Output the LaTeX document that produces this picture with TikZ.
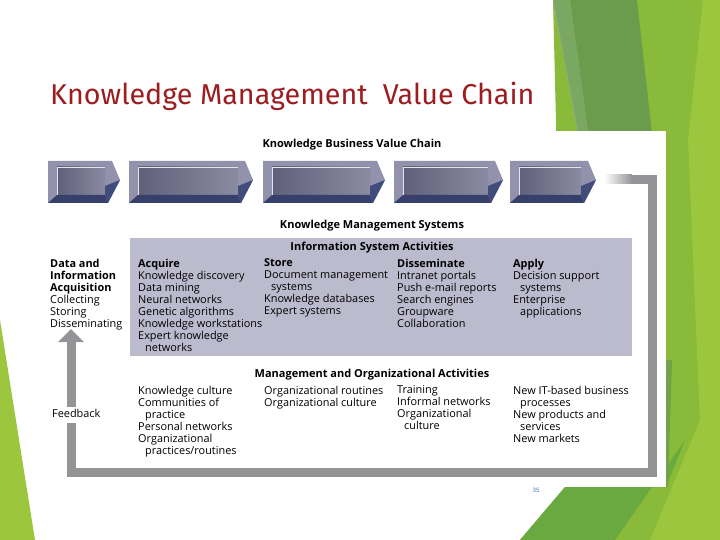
\documentclass[tikz,border=0pt]{standalone}
\usepackage{fontspec}
\setmainfont{Open Sans}
\newfontfamily\titlefont{Fira Sans}
\usepackage{tikz}

\definecolor{slidered}{RGB}{156,28,31}
\definecolor{lime}{RGB}{155,198,62}
\definecolor{leaf}{RGB}{138,186,58}
\definecolor{moss}{RGB}{107,155,76}
\definecolor{sage}{RGB}{122,168,98}
\definecolor{grass}{RGB}{106,168,64}
\definecolor{loopgray}{RGB}{148,148,150}
\definecolor{panel}{RGB}{187,187,205}
\definecolor{bevel}{RGB}{146,146,172}
\definecolor{faceL}{RGB}{96,96,122}
\definecolor{faceR}{RGB}{138,138,162}
\definecolor{navy}{RGB}{54,64,106}
\definecolor{navyR}{RGB}{64,76,124}
\definecolor{pagenum}{RGB}{58,94,168}

\tikzset{
    col/.style={anchor=north west, align=left, inner sep=0pt, execute at begin node=\strut,
        font=\fontsize{10.9}{12}\selectfont},
    bar/.style={anchor=base, inner sep=0pt, font=\fontsize{11}{12}\selectfont\bfseries},
}

\begin{document}
\begin{tikzpicture}[x=1pt, y=-1pt]
    \useasboundingbox (0,0) rectangle (720,540);
    % slide background
    \fill[lime] (0,320) -- (35,540) -- (0,540) -- cycle;
    \fill[leaf] (553,0) -- (720,0) -- (720,540) -- (520,540) -- (565,487) -- cycle;
    \fill[lime] (703,0) -- (720,0) -- (720,540) -- (650,540) -- (700,420) -- (688,140) -- cycle;
    \fill[moss] (570,0) -- (637,0) -- (655,160) -- (592,160) -- cycle;
    \fill[sage] (553,0) -- (570,0) -- (592,160) -- (583,160) -- cycle;
    \draw[gray!70, line width=0.4pt] (553,0) -- (583,160);
    \fill[grass] (520,540) -- (565,487) -- (666,487) -- (685,440) -- (615,540) -- cycle;
    \fill[moss!80!leaf] (666,360) -- (672,360) -- (668,487) -- (666,487) -- cycle;
    \fill[white] (40,131) rectangle (666,487);

    \node[anchor=base west, inner sep=0pt, text=slidered, font=\titlefont\fontsize{28.7}{30}\selectfont] (title) at (50,105) {Knowledge Management~ Value Chain};

    % value chain
    \node[bar] (kbvc) at (352,148) {Knowledge Business Value Chain};
    \foreach \xa/\xb in {48/120, 129/253, 263/385, 394/503, 510/596} {
        \fill[bevel] (\xa,161) -- (\xb-8,161) -- (\xb,180) -- (\xb-12,203) -- (\xa,203) -- cycle;
        \shade[left color=faceL, right color=faceR] (\xa+9,167) rectangle (\xb-15,195);
        \fill[navy] (\xa,203) -- (\xa+9,195) -- (\xb-15,195) -- (\xb-12,203) -- cycle;
        \fill[navyR] (\xb-15,195) -- (\xb-15,186) -- (\xb,180) -- (\xb-12,203) -- cycle;
        \draw[white!75!bevel, line width=0.6pt] (\xa+9,195) -- (\xa+9,167) -- (\xb-15,167);
    }

    % feedback loop
    \coordinate (loopstart) at (604,179.5);
    \coordinate (loopend) at (71,341);
    \shade[left color=white, right color=loopgray] (loopstart) ++(0,-4.5) rectangle (632,184);
    \draw[loopgray, line width=9pt] (632,179.5) -- (652.5,179.5) -- (652.5,472) -- (71,472) -- (loopend);
    \fill[loopgray] (58,342) -- (84,342) -- (71,329) -- cycle;
    \node[col, fill=white, inner sep=2pt] (feedback) at (50,406.6) {Feedback};

    % knowledge management systems
    \node[bar] (kms) at (372,229) {Knowledge Management Systems};
    \fill[panel] (130,238) rectangle (632,356);
    \node[bar] (isa) at (372,251) {Information System Activities};

    \node[col] (data) at (50,258.6) {\textbf{Data and}\\\textbf{Information}\\\textbf{Acquisition}\\Collecting\\Storing\\Disseminating};
    \node[col] (acquire) at (138,258.6) {\textbf{Acquire}\\Knowledge discovery\\Data mining\\Neural networks\\Genetic algorithms\\Knowledge workstations\\Expert knowledge\\\hspace*{7pt}networks};
    \node[col] (store) at (264,258.6) {\textbf{Store}\\Document management\\\hspace*{7pt}systems\\Knowledge databases\\Expert systems};
    \node[col] (dissem) at (397,258.6) {\textbf{Disseminate}\\Intranet portals\\Push e-mail reports\\Search engines\\Groupware\\Collaboration};
    \node[col] (apply) at (513,258.6) {\textbf{Apply}\\Decision support\\\hspace*{7pt}systems\\Enterprise\\\hspace*{7pt}applications};

    % management and organizational activities
    \node[bar] (moa) at (372,377) {Management and Organizational Activities};
    \node[col] (org1) at (138,385.6) {Knowledge culture\\Communities of\\\hspace*{7pt}practice\\Personal networks\\Organizational\\\hspace*{7pt}practices/routines};
    \node[col] (org2) at (264,385.6) {Organizational routines\\Organizational culture};
    \node[col] (org3) at (397,385.6) {Training\\Informal networks\\Organizational\\\hspace*{7pt}culture};
    \node[col] (org4) at (513,385.6) {New IT-based business\\\hspace*{7pt}processes\\New products and\\\hspace*{7pt}services\\New markets};

    \node[anchor=base, inner sep=0pt, text=pagenum, font=\fontsize{6}{7}\selectfont] (page) at (536,492) {35};
\end{tikzpicture}
\end{document}
